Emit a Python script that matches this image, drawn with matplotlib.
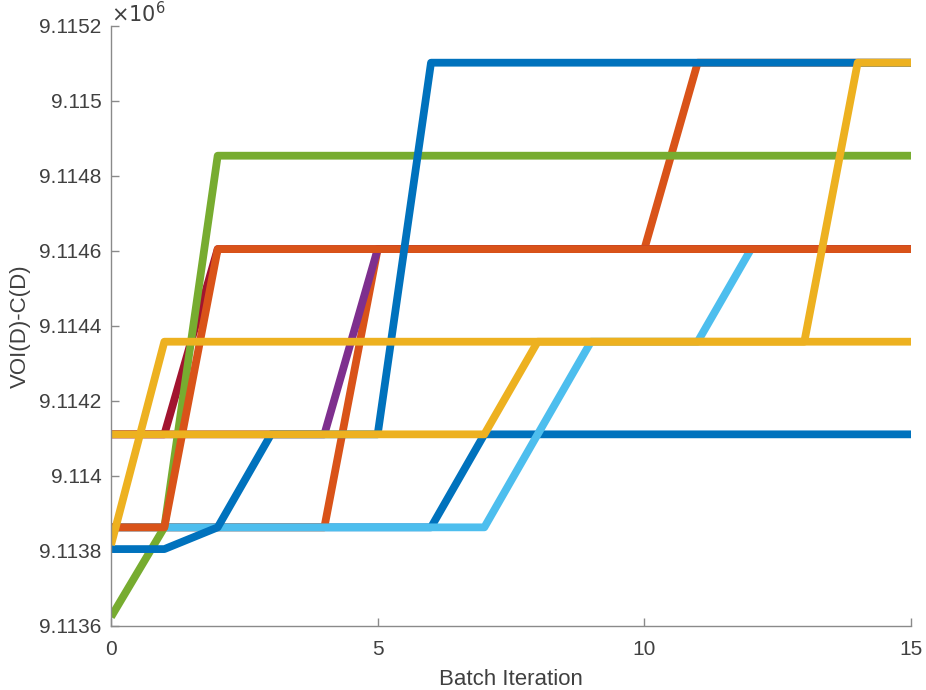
import matplotlib
matplotlib.use("Agg")
import matplotlib.pyplot as plt
from matplotlib.ticker import FuncFormatter

plt.rcParams['font.family'] = ['Liberation Sans', 'DejaVu Sans']

# batch iterations
x = list(range(16))

# VOI(D)-C(D) per batch iteration, one list per run
blue_b = [9113863] * 7 + [9114111] * 9
orange_b = [9113863] * 5 + [9114605] * 6 + [9115102] * 5
light_blue = [9113863] * 8 + [9114111] + [9114358] * 3 + [9114605] * 4
purple = [9114111] * 5 + [9114605] * 11
dark_red = [9114111] * 2 + [9114605] * 14
green = [9113624, 9113863] + [9114854] * 14
orange_a = [9113863] * 2 + [9114605] * 14
blue_a = [9113805] * 2 + [9113863] + [9114111] * 3 + [9115102] * 10
yellow_a = [9113816] + [9114358] * 13 + [9115102] * 2
yellow_b = [9114111] * 8 + [9114358] * 8

series = [
    (blue_b, '#0072BD'),
    (orange_b, '#D95319'),
    (light_blue, '#4DBEEE'),
    (purple, '#7E2F8E'),
    (dark_red, '#A2142F'),
    (green, '#77AC30'),
    (orange_a, '#D95319'),
    (blue_a, '#0072BD'),
    (yellow_a, '#EDB120'),
    (yellow_b, '#EDB120'),
]

yticks = [9113600, 9113800, 9114000, 9114200, 9114400,
          9114600, 9114800, 9115000, 9115200]
xticks = [0, 5, 10, 15]

fig = plt.figure(figsize=(9.26, 6.90), dpi=100)
ax = fig.add_axes([0.1199, 0.0928, 0.8639, 0.8696])

for ys, c in series:
    ax.plot(x, ys, color=c, lw=5.6, solid_joinstyle='round', solid_capstyle='butt')

ax.set_xlim(0, 15)
ax.set_ylim(9113600, 9115200)
ax.set_xticks(xticks)
ax.set_yticks(yticks)
ax.yaxis.set_major_formatter(FuncFormatter(lambda v, p: '%g' % (v / 1e6)))

for s in ['top', 'right']:
    ax.spines[s].set_visible(False)
for s in ['left', 'bottom']:
    ax.spines[s].set_color('#8a8a8a')
    ax.spines[s].set_linewidth(1.0)

ax.tick_params(direction='in', length=5.5, width=1, color='#8a8a8a',
               labelcolor='#404040', labelsize=15)
ax.tick_params(axis='y', pad=7)
ax.tick_params(axis='x', pad=10)

ax.set_xlabel('Batch Iteration', fontsize=16, color='#404040', labelpad=7)
ax.set_ylabel('VOI(D)-C(D)', fontsize=16, color='#404040', labelpad=6)
ax.text(0.0, 1.0, r'$\times10^{6}$', transform=ax.transAxes,
        fontsize=15, color='#404040', ha='left', va='bottom')

fig.savefig('out.png', dpi=100)
